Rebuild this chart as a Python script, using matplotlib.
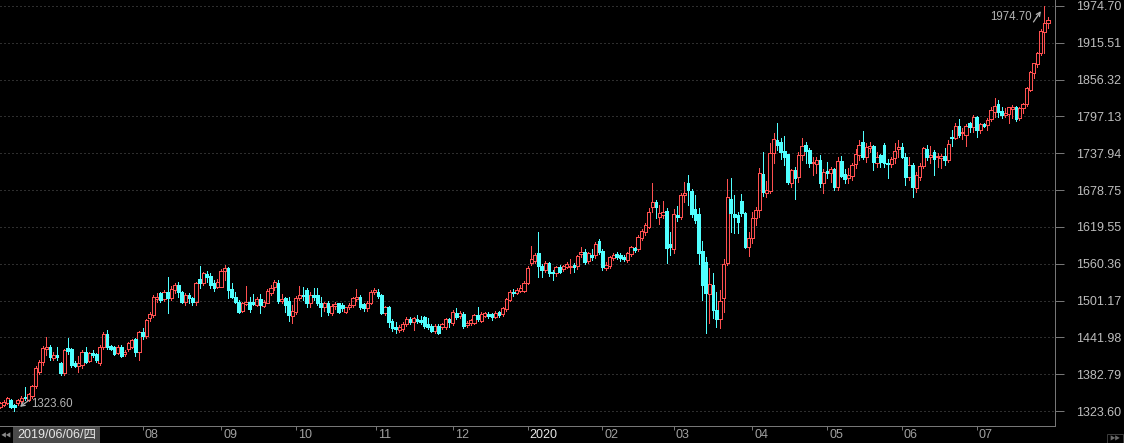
import matplotlib
matplotlib.use("Agg")
import matplotlib.pyplot as plt
from matplotlib.patches import Rectangle
import numpy as np

# daily gold candles, 2019/06/06 .. 2020/07/28
opens = [
    1330.5, 1334.0, 1337.0, 1341.3, 1333.2, 1336.0, 1339.0, 1346.0, 1342.0, 1348.3,
    1363.8, 1386.8, 1402.9, 1422.7, 1427.0, 1409.3, 1413.6, 1400.3, 1385.2, 1425.5,
    1422.7, 1401.3, 1396.5, 1397.6, 1419.0, 1404.0, 1416.3, 1414.7, 1400.3, 1427.0,
    1447.4, 1427.5, 1426.0, 1417.3, 1426.0, 1415.2, 1422.7, 1427.0, 1438.8, 1419.0,
    1451.2, 1444.2, 1472.6, 1478.0, 1503.1, 1512.8, 1503.1, 1515.4, 1504.7, 1518.1,
    1526.1, 1515.4, 1499.3, 1510.1, 1504.7, 1499.3, 1535.2, 1528.8, 1543.8, 1540.6,
    1529.9, 1523.4, 1523.4, 1549.2, 1552.9, 1519.2, 1507.4, 1499.3, 1484.9, 1495.6,
    1499.3, 1499.3, 1494.0, 1503.1, 1492.4, 1497.7, 1513.8, 1522.4, 1529.9, 1500.9,
    1504.7, 1500.9, 1476.8, 1483.3, 1504.7, 1510.1, 1518.1, 1496.6, 1510.1, 1510.1,
    1497.7, 1490.2, 1497.7, 1480.6, 1492.4, 1496.6, 1494.0, 1483.3, 1490.2, 1494.0,
    1503.7, 1507.4, 1495.1, 1488.7, 1497.8, 1515.5, 1515.5, 1510.1, 1481.7, 1490.3,
    1468.9, 1459.2, 1453.9, 1454.9, 1463.5, 1471.5, 1467.3, 1471.5, 1469.5, 1474.2,
    1463.5, 1460.3, 1452.8, 1460.3, 1458.1, 1458.1, 1471.0, 1464.6, 1481.7, 1476.4,
    1479.6, 1461.4, 1464.6, 1465.6, 1478.0, 1468.9, 1476.4, 1479.6, 1479.6, 1475.3,
    1483.3, 1479.6, 1487.1, 1502.1, 1515.5, 1513.9, 1517.1, 1517.1, 1529.9, 1561.0,
    1565.3, 1577.0, 1556.7, 1550.3, 1561.0, 1547.6, 1544.9, 1555.6, 1551.3, 1555.6,
    1554.5, 1558.3, 1556.0, 1576.0, 1579.7, 1565.3, 1574.4, 1574.4, 1597.4, 1581.3,
    1553.0, 1556.7, 1569.0, 1576.0, 1573.8, 1571.7, 1566.3, 1576.0, 1585.1, 1583.5,
    1601.0, 1611.9, 1619.9, 1652.1, 1660.1, 1634.9, 1638.7, 1645.6, 1592.0, 1583.5,
    1638.7, 1636.0, 1670.8, 1689.6, 1677.8, 1647.8, 1640.0, 1581.3, 1563.7, 1511.7,
    1526.2, 1486.0, 1471.0, 1504.7, 1562.0, 1663.9, 1640.3, 1638.7, 1661.2, 1642.4,
    1586.7, 1601.2, 1633.3, 1646.8, 1704.6, 1674.6, 1677.8, 1738.9, 1759.3, 1756.6,
    1741.6, 1736.8, 1690.7, 1711.0, 1700.3, 1735.2, 1751.2, 1743.2, 1722.9, 1720.7,
    1727.1, 1690.7, 1709.4, 1706.8, 1712.1, 1683.2, 1726.0, 1704.6, 1697.6, 1701.4,
    1720.7, 1735.2, 1756.6, 1732.5, 1745.9, 1749.6, 1721.8, 1735.2, 1751.2, 1722.9,
    1720.7, 1729.8, 1745.3, 1748.6, 1731.4, 1700.3, 1719.1, 1681.6, 1700.3, 1717.5,
    1744.3, 1731.4, 1740.5, 1732.5, 1729.8, 1733.5, 1727.1, 1764.6, 1762.0, 1781.8,
    1770.0, 1767.3, 1787.1, 1780.7, 1795.7, 1775.4, 1785.0, 1783.4, 1792.5, 1804.8,
    1817.2, 1806.4, 1799.5, 1801.1, 1808.6, 1811.8, 1794.1, 1810.2, 1817.2, 1839.7,
    1867.5, 1881.5, 1898.6, 1933.4, 1946.8,
]
highs = [
    1338.0, 1341.0, 1346.6, 1343.0, 1335.0, 1343.0, 1348.0, 1362.7, 1353.0, 1366.0,
    1396.0, 1406.0, 1428.0, 1442.0, 1430.0, 1418.0, 1426.0, 1403.0, 1424.0, 1440.4,
    1425.0, 1404.0, 1412.0, 1421.0, 1427.0, 1418.0, 1421.7, 1417.0, 1429.0, 1450.0,
    1453.8, 1430.0, 1428.0, 1430.0, 1429.0, 1421.0, 1434.0, 1440.0, 1441.0, 1453.0,
    1456.5, 1472.0, 1483.0, 1510.0, 1513.8, 1515.0, 1518.0, 1539.6, 1524.0, 1529.0,
    1530.4, 1517.0, 1512.7, 1512.7, 1507.4, 1531.5, 1556.7, 1547.6, 1549.2, 1544.9,
    1534.2, 1535.2, 1551.3, 1558.3, 1555.6, 1528.8, 1515.4, 1502.0, 1499.3, 1524.5,
    1507.4, 1511.7, 1507.4, 1511.7, 1502.0, 1519.2, 1526.1, 1534.2, 1534.2, 1511.7,
    1507.4, 1507.4, 1494.0, 1508.4, 1524.5, 1522.4, 1520.8, 1515.4, 1520.8, 1520.8,
    1507.4, 1499.3, 1500.9, 1495.6, 1499.3, 1497.7, 1497.7, 1491.3, 1496.6, 1507.0,
    1519.2, 1510.0, 1497.0, 1500.0, 1518.0, 1521.0, 1519.0, 1512.0, 1493.0, 1493.0,
    1471.0, 1467.3, 1462.0, 1466.0, 1474.0, 1474.0, 1475.0, 1478.0, 1476.5, 1476.0,
    1473.7, 1463.0, 1463.0, 1463.0, 1465.0, 1473.0, 1473.0, 1486.0, 1488.7, 1484.0,
    1482.0, 1468.0, 1472.0, 1480.0, 1491.4, 1482.0, 1483.0, 1482.0, 1481.0, 1484.0,
    1485.0, 1491.0, 1505.0, 1518.0, 1520.0, 1521.0, 1526.0, 1532.0, 1556.0, 1588.8,
    1578.1, 1611.9, 1560.0, 1564.0, 1563.0, 1551.0, 1557.0, 1559.0, 1559.0, 1563.0,
    1567.4, 1562.0, 1574.0, 1586.7, 1583.5, 1580.0, 1583.5, 1595.0, 1600.0, 1584.0,
    1563.7, 1573.0, 1578.0, 1579.0, 1577.0, 1574.0, 1579.0, 1589.0, 1588.0, 1606.0,
    1616.0, 1626.0, 1650.0, 1690.7, 1663.0, 1654.8, 1661.7, 1650.0, 1611.9, 1647.8,
    1653.1, 1674.0, 1692.3, 1703.0, 1681.0, 1670.8, 1650.0, 1596.9, 1571.7, 1553.0,
    1544.9, 1515.4, 1518.1, 1567.4, 1696.6, 1697.6, 1670.8, 1644.0, 1672.4, 1644.0,
    1611.9, 1644.0, 1652.1, 1713.7, 1740.5, 1693.4, 1753.9, 1770.0, 1786.1, 1762.0,
    1765.7, 1737.0, 1712.0, 1716.4, 1740.5, 1762.0, 1756.6, 1745.9, 1732.5, 1732.5,
    1735.2, 1712.0, 1724.4, 1715.3, 1713.7, 1732.5, 1733.5, 1712.1, 1713.7, 1722.9,
    1744.3, 1759.3, 1774.3, 1755.0, 1756.6, 1751.2, 1740.5, 1737.0, 1753.9, 1728.2,
    1732.5, 1753.9, 1759.3, 1753.9, 1737.8, 1732.5, 1721.8, 1708.4, 1721.8, 1748.6,
    1751.2, 1750.2, 1743.2, 1737.8, 1736.8, 1745.9, 1759.3, 1775.4, 1786.1, 1793.0,
    1778.0, 1785.0, 1788.8, 1799.5, 1797.9, 1787.2, 1787.2, 1794.1, 1811.8, 1826.3,
    1823.6, 1812.9, 1810.2, 1812.9, 1815.6, 1814.0, 1812.9, 1819.3, 1844.0, 1870.2,
    1883.6, 1901.3, 1937.2, 1974.7, 1956.5,
]
lows = [
    1328.0, 1332.0, 1335.0, 1328.0, 1323.6, 1334.0, 1337.0, 1342.0, 1340.0, 1345.0,
    1360.0, 1383.0, 1398.0, 1413.6, 1405.0, 1405.0, 1405.0, 1381.5, 1382.0, 1416.0,
    1395.0, 1394.0, 1386.8, 1393.0, 1400.0, 1402.0, 1410.0, 1402.0, 1398.0, 1424.0,
    1423.0, 1421.0, 1413.0, 1415.0, 1410.0, 1412.0, 1420.0, 1425.0, 1412.0, 1405.6,
    1440.0, 1441.0, 1468.0, 1475.0, 1499.0, 1499.0, 1500.0, 1481.7, 1502.0, 1513.0,
    1507.4, 1496.6, 1494.0, 1497.7, 1494.0, 1494.0, 1522.0, 1526.1, 1531.5, 1520.8,
    1517.0, 1520.8, 1522.4, 1534.2, 1504.7, 1504.7, 1496.6, 1481.6, 1483.3, 1494.0,
    1483.3, 1494.0, 1492.4, 1481.6, 1491.3, 1496.6, 1510.1, 1518.1, 1496.6, 1497.7,
    1483.3, 1468.8, 1464.5, 1479.5, 1502.0, 1502.0, 1491.3, 1491.3, 1502.0, 1494.0,
    1476.3, 1484.9, 1477.9, 1477.9, 1487.1, 1481.6, 1484.9, 1480.6, 1487.1, 1490.0,
    1501.0, 1488.0, 1484.0, 1485.0, 1495.0, 1512.0, 1505.0, 1479.0, 1478.0, 1459.2,
    1453.0, 1448.5, 1450.0, 1452.0, 1460.0, 1464.0, 1453.9, 1465.0, 1463.0, 1457.0,
    1456.0, 1450.0, 1449.0, 1447.0, 1455.0, 1456.0, 1458.1, 1462.0, 1472.0, 1473.0,
    1457.0, 1458.0, 1462.0, 1463.0, 1468.0, 1466.0, 1474.0, 1473.0, 1470.0, 1473.0,
    1475.0, 1477.0, 1485.0, 1500.0, 1509.0, 1511.0, 1515.0, 1515.0, 1527.0, 1558.0,
    1562.0, 1539.5, 1539.5, 1547.0, 1541.0, 1534.2, 1541.0, 1545.0, 1548.0, 1553.0,
    1544.9, 1547.6, 1552.0, 1571.7, 1560.0, 1562.0, 1567.0, 1570.0, 1576.0, 1550.3,
    1550.3, 1554.0, 1566.0, 1568.0, 1565.0, 1564.0, 1563.0, 1573.0, 1580.0, 1581.0,
    1598.0, 1606.0, 1617.0, 1644.0, 1633.3, 1625.0, 1633.4, 1562.0, 1574.4, 1578.0,
    1629.6, 1633.0, 1660.0, 1654.8, 1636.0, 1626.0, 1560.0, 1502.0, 1449.5, 1464.5,
    1472.6, 1458.1, 1456.5, 1483.3, 1558.3, 1611.9, 1609.2, 1609.0, 1637.0, 1585.0,
    1573.3, 1593.0, 1622.6, 1636.0, 1669.2, 1668.2, 1673.5, 1721.8, 1743.2, 1728.2,
    1719.1, 1688.5, 1683.2, 1663.9, 1692.3, 1727.1, 1721.8, 1716.4, 1703.0, 1705.7,
    1684.2, 1673.5, 1697.6, 1692.3, 1678.9, 1678.9, 1700.3, 1689.6, 1690.7, 1695.0,
    1713.7, 1727.1, 1728.2, 1724.4, 1740.5, 1711.0, 1716.4, 1716.4, 1716.4, 1697.6,
    1716.4, 1721.8, 1732.5, 1729.8, 1686.9, 1695.0, 1668.2, 1676.2, 1695.0, 1713.7,
    1727.1, 1721.8, 1703.0, 1716.4, 1713.7, 1719.1, 1724.4, 1749.6, 1760.3, 1764.6,
    1760.3, 1749.6, 1772.7, 1772.7, 1764.6, 1770.0, 1779.6, 1775.4, 1790.4, 1796.8,
    1796.8, 1794.1, 1796.8, 1787.2, 1794.1, 1790.4, 1791.4, 1803.2, 1814.0, 1838.6,
    1858.4, 1877.2, 1896.0, 1898.6, 1938.8,
]
closes = [
    1335.9, 1338.6, 1344.0, 1330.5, 1330.5, 1341.0, 1345.0, 1345.0, 1350.4, 1363.8,
    1392.2, 1402.9, 1424.3, 1427.0, 1410.9, 1413.1, 1409.9, 1384.2, 1421.7, 1420.6,
    1397.6, 1396.0, 1400.3, 1419.0, 1402.9, 1416.3, 1414.2, 1405.6, 1427.0, 1447.4,
    1426.0, 1423.8, 1415.2, 1427.0, 1412.0, 1419.0, 1432.4, 1437.7, 1419.0, 1451.2,
    1444.2, 1469.9, 1479.0, 1507.4, 1507.4, 1502.1, 1515.4, 1504.7, 1519.2, 1526.2,
    1515.4, 1499.3, 1510.1, 1504.7, 1499.3, 1528.8, 1528.8, 1544.9, 1539.5, 1526.1,
    1520.8, 1531.5, 1549.2, 1552.9, 1518.1, 1507.4, 1499.3, 1483.3, 1496.7, 1499.3,
    1487.1, 1495.6, 1503.1, 1494.0, 1499.3, 1517.0, 1520.8, 1531.5, 1500.9, 1503.1,
    1494.0, 1477.9, 1484.3, 1504.7, 1510.1, 1508.4, 1497.7, 1510.1, 1507.4, 1496.6,
    1491.3, 1496.6, 1483.3, 1492.4, 1495.6, 1483.3, 1488.6, 1490.2, 1494.0, 1504.7,
    1507.4, 1491.4, 1488.7, 1497.8, 1515.5, 1518.2, 1508.5, 1481.7, 1490.3, 1467.3,
    1456.5, 1454.9, 1459.2, 1463.5, 1471.5, 1467.3, 1472.6, 1468.9, 1466.5, 1460.3,
    1459.2, 1452.8, 1460.3, 1449.6, 1462.9, 1471.0, 1467.3, 1483.3, 1475.3, 1480.6,
    1460.3, 1465.6, 1469.9, 1478.0, 1471.0, 1479.6, 1480.6, 1476.4, 1475.3, 1481.7,
    1478.0, 1488.7, 1503.2, 1515.5, 1512.8, 1518.2, 1520.8, 1529.9, 1553.0, 1567.4,
    1574.4, 1556.7, 1550.3, 1561.0, 1544.9, 1544.9, 1554.5, 1547.6, 1556.7, 1559.9,
    1556.7, 1555.6, 1572.0, 1579.7, 1563.7, 1577.0, 1570.6, 1592.0, 1579.7, 1555.6,
    1558.3, 1570.6, 1574.4, 1571.7, 1569.0, 1567.4, 1577.0, 1586.7, 1582.4, 1603.8,
    1613.5, 1622.6, 1644.0, 1660.1, 1652.1, 1641.4, 1644.0, 1585.1, 1586.7, 1640.3,
    1634.9, 1670.8, 1673.5, 1678.9, 1640.3, 1630.6, 1578.0, 1526.2, 1512.8, 1527.8,
    1486.0, 1471.0, 1501.0, 1559.9, 1667.1, 1641.4, 1636.0, 1628.0, 1641.4, 1587.8,
    1601.2, 1633.3, 1646.8, 1705.7, 1676.2, 1678.9, 1737.8, 1760.3, 1751.2, 1740.5,
    1731.4, 1692.3, 1711.0, 1698.7, 1735.2, 1749.6, 1742.1, 1721.8, 1723.9, 1727.1,
    1689.6, 1708.4, 1706.8, 1712.1, 1684.2, 1726.0, 1701.4, 1697.1, 1703.0, 1719.1,
    1736.8, 1751.2, 1732.5, 1747.5, 1749.6, 1724.4, 1732.5, 1724.4, 1721.8, 1720.7,
    1728.2, 1742.1, 1748.6, 1731.4, 1700.3, 1719.1, 1684.2, 1703.0, 1717.5, 1745.9,
    1731.4, 1735.2, 1728.2, 1734.2, 1733.5, 1727.1, 1752.8, 1762.0, 1781.8, 1767.3,
    1772.7, 1781.8, 1780.7, 1796.8, 1775.4, 1785.0, 1781.8, 1791.4, 1807.5, 1814.0,
    1804.8, 1799.5, 1803.2, 1811.8, 1811.8, 1792.5, 1810.2, 1817.2, 1842.4, 1869.1,
    1882.5, 1898.6, 1935.1, 1947.9, 1952.2,
]

price_labels = ['1323.60', '1382.79', '1441.98', '1501.17', '1560.36', '1619.55',
                '1678.75', '1737.94', '1797.13', '1856.32', '1915.51', '1974.70']
month_pos = [40, 62, 83, 105.5, 127, 148, 169, 189, 211, 232, 253, 274]
month_labels = ['08', '09', '10', '11', '12', '2020', '02', '03', '04', '05', '06', '07']
first_date = '2019/06/06/四'

UP = '#ff5050'
DOWN = '#50ffff'
AXIS = '#767676'
PX = 0.72  # one pixel at 100 dpi, in points

plt.rcParams['font.family'] = ['Liberation Sans', 'Noto Sans CJK TC', 'DejaVu Sans']

W, H = 1124, 443
fig = plt.figure(figsize=(W / 100, H / 100), dpi=100, facecolor='black')
ax = fig.add_axes([0, 17 / H, 1055 / W, 426 / H], facecolor='black')

o = np.array(opens)
hi = np.array(highs)
lo = np.array(lows)
c = np.array(closes)
x = np.arange(len(c))
up = c >= o
dn = ~up
top = np.maximum(o, c)
bot = np.minimum(o, c)

# rising days: hollow red box drawn as outline, wick only outside the box
hw = 0.45
kw = dict(lw=PX, zorder=3, antialiased=False)
ax.vlines(x[up], top[up], hi[up], color=UP, **kw)
ax.vlines(x[up], lo[up], bot[up], color=UP, **kw)
ax.vlines(x[up] - hw, bot[up], top[up], color=UP, **kw)
ax.vlines(x[up] + hw, bot[up], top[up], color=UP, **kw)
ax.hlines(top[up], x[up] - hw, x[up] + hw, color=UP, **kw)
ax.hlines(bot[up], x[up] - hw, x[up] + hw, color=UP, **kw)

# falling days: filled cyan box
ax.vlines(x[dn], lo[dn], hi[dn], color=DOWN, lw=PX, zorder=2, antialiased=False)
ax.bar(x[dn], top[dn] - bot[dn], bottom=bot[dn], width=0.75, facecolor=DOWN,
       edgecolor=DOWN, linewidth=PX, zorder=3, antialiased=False)

ax.set_xlim(0, len(c) - 1 + 1.96)
ax.set_ylim(1299.5, 1984.3)

# price axis on the right
price_ticks = [float(v) for v in price_labels]
ax.yaxis.tick_right()
ax.set_yticks(price_ticks, price_labels)
ax.tick_params(axis='y', direction='out', length=6.5, width=PX, colors=AXIS,
               labelcolor='#bdbdbd', labelsize=9, pad=8.5)
ax.set_axisbelow(True)
ax.grid(axis='y', color='#5c5c5c', lw=PX, ls=(0, (1, 3)))

for s in ['left', 'top']:
    ax.spines[s].set_visible(False)
for s in ['right', 'bottom']:
    ax.spines[s].set_color(AXIS)
    ax.spines[s].set_linewidth(PX)

# month ticks along the bottom
ax.set_xticks(month_pos, [''] * len(month_pos))
ax.tick_params(axis='x', direction='out', length=3, width=PX, colors=AXIS)
for pos, lab in zip(month_pos, month_labels):
    ax.annotate(lab, xy=(pos, 0), xycoords=('data', 'axes fraction'),
                xytext=(2, -12), textcoords='offset pixels', ha='left', va='baseline',
                fontsize=9, color='#e6e6e6' if lab == '2020' else '#a0a0a0')

# first date box, scroll arrows
fig.patches.append(Rectangle((12.7 / W, 0), 87.3 / W, 16 / H, transform=fig.transFigure,
                             facecolor='#4a4a4a', edgecolor='none'))
fig.text(17 / W, 4.7 / H, first_date, fontsize=9, color='#e8e8e8', va='baseline')
fig.text(0.5 / W, 6 / H, '◀◀', fontsize=4, color='#8a8a8a', va='baseline')
fig.text(1115 / W, 4 / H, '▶▶', fontsize=4, color='#6a6a6a', ha='center', va='center',
         bbox=dict(facecolor='black', edgecolor='#3a3a3a', pad=1.5, lw=PX))

# min / max markers
li = int(np.argmin(lo))
hj = int(np.argmax(hi))
ax.annotate('', xy=(li, lo[li]), xytext=(15, 11), textcoords='offset pixels',
            arrowprops=dict(arrowstyle='->', color='#b4b4b4', lw=0.9, shrinkA=0,
                            shrinkB=5, mutation_scale=7),
            annotation_clip=False, zorder=6)
ax.annotate('%.2f' % lo[li], xy=(li, lo[li]), xytext=(17, 7), textcoords='offset pixels',
            ha='left', va='center', fontsize=8.3, color='#b4b4b4', zorder=6)
ax.annotate('', xy=(hj, hi[hj]), xytext=(-11, -16), textcoords='offset pixels',
            arrowprops=dict(arrowstyle='->', color='#b4b4b4', lw=0.9, shrinkA=0,
                            shrinkB=4.5, mutation_scale=7),
            annotation_clip=False, zorder=6)
ax.annotate('%.2f' % hi[hj], xy=(hj, hi[hj]), xytext=(-13, -11), textcoords='offset pixels',
            ha='right', va='center', fontsize=8.3, color='#b4b4b4', zorder=6)

fig.savefig('out.png', dpi=100, facecolor='black')
